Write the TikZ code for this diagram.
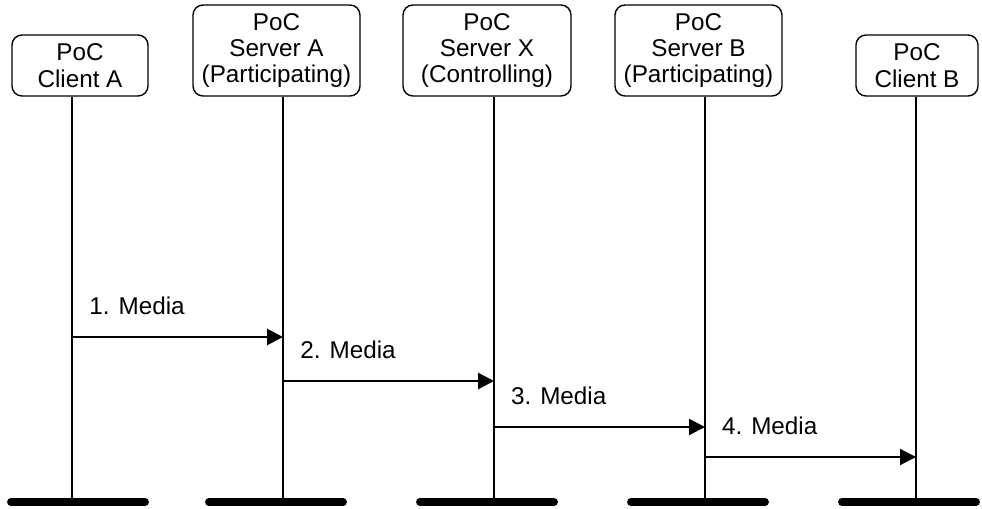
\documentclass[tikz,border=0pt]{standalone}
\usepackage{fontspec}
\setmainfont{Liberation Sans}
\usetikzlibrary{arrows.meta}

\begin{document}
\begin{tikzpicture}[
  x=0.2mm, y=-0.2mm,
  font=\fontsize{13.8}{15}\selectfont,
  entity/.style={draw, line width=0.8pt, rounded corners=2mm, align=center,
                 inner sep=0pt, minimum height=18.2mm},
  lifeline/.style={line width=1pt},
  base/.style={line width=4.5pt, line cap=round},
  msg/.style={-{Triangle[length=3.2mm, width=3.2mm]}, line width=1.6pt},
  msgthin/.style={msg, line width=1.2pt},
  lbl/.style={anchor=west, inner sep=0pt, xshift=3.2mm, yshift=6.2mm}
]
\useasboundingbox (0,0) rectangle (982,508);

% participants
\node[entity, minimum width=27.2mm, minimum height=12.2mm] (ca) at (80,65.5) {PoC\\Client A};
\node[entity, minimum width=33.4mm] (sa) at (276.5,50.5) {PoC\\Server A\\(Participating)};
\node[entity, minimum width=33.6mm] (sx) at (487,50.5) {PoC\\Server X\\(Controlling)};
\node[entity, minimum width=33.4mm] (sb) at (698.5,50.5) {PoC\\Server B\\(Participating)};
\node[entity, minimum width=24.4mm, minimum height=12.2mm] (cb) at (917,65.5) {PoC\\Client B};

% lifelines and bases
\foreach \n/\x/\b in {ca/72/78, sa/283/276, sx/494/487, sb/705/698, cb/916/909} {
  \coordinate (\n-bot) at (\x,502);
  \draw[lifeline] (\n.south -| \n-bot) -- (\n-bot);
  \draw[base] (\b-67,502) -- (\b+67,502);
}

% messages
\coordinate (m1) at (0,337);
\coordinate (m2) at (0,381);
\coordinate (m3) at (0,427);
\coordinate (m4) at (0,457);
\draw[msg] (ca-bot |- m1) -- (sa-bot |- m1) node[lbl, pos=0] {1. Media};
\draw[msg] (sa-bot |- m2) -- (sx-bot |- m2) node[lbl, pos=0] {2. Media};
\draw[msgthin] (sx-bot |- m3) -- (sb-bot |- m3) node[lbl, pos=0] {3. Media};
\draw[msgthin] (sb-bot |- m4) -- (cb-bot |- m4) node[lbl, pos=0] {4. Media};
\end{tikzpicture}
\end{document}
